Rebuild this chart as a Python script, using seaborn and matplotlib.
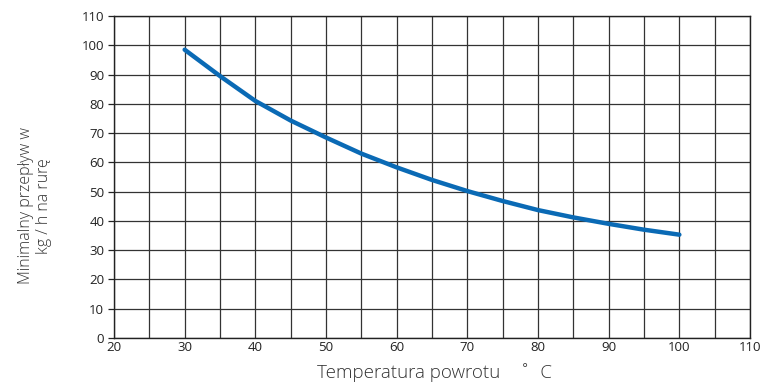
import numpy as np
import pandas as pd
import matplotlib
matplotlib.use("Agg")
import matplotlib.pyplot as plt
import seaborn as sns

temperatura = [30, 35, 40, 45, 50, 55, 60, 65, 70, 75, 80, 85, 90, 95, 100]
przeplyw = [98.5, 89.5, 81, 74.3, 68.5, 63, 58.3, 54, 50.2, 46.8, 43.7, 41.2, 39, 37, 35.3]
x_ticks = [20, 30, 40, 50, 60, 70, 80, 90, 100, 110]
x_minor = [25, 35, 45, 55, 65, 75, 85, 95, 105]
y_ticks = [0, 10, 20, 30, 40, 50, 60, 70, 80, 90, 100, 110]

df = pd.DataFrame({"temperatura": temperatura, "przeplyw": przeplyw})

sns.set_style("white")
plt.rcParams["font.family"] = ["Open Sans", "DejaVu Sans"]

fig = plt.figure(figsize=(7.63, 3.82), dpi=100)
ax = fig.add_axes([0.1494, 0.1152, 0.8336, 0.8428])

sns.lineplot(data=df, x="temperatura", y="przeplyw", color="#0a6ab5",
             linewidth=3.2, ax=ax, zorder=3)

ax.set_xlim(20, 110)
ax.set_ylim(0, 110)
ax.set_xticks(x_ticks)
ax.set_xticks(x_minor, minor=True)
ax.set_yticks(y_ticks)
ax.grid(True, which="both", color="#333333", linewidth=0.9)
ax.tick_params(axis="x", which="major", length=0, labelsize=9.5, pad=2, colors="#222222")
ax.tick_params(axis="x", which="minor", length=6, width=0.9, color="#333333", direction="out")
ax.tick_params(axis="y", which="major", length=4, width=0.9, labelsize=9.5, pad=3,
               colors="#222222", direction="out", left=True)
for s in ax.spines.values():
    s.set_color("#222222")
    s.set_linewidth(1.0)

ax.set_xlabel("")
ax.set_ylabel("")
fig.text(0.569, 0.026, "Temperatura powrotu    ˚  C", fontsize=13.5, color="#333333",
         ha="center", va="center", fontweight="light")
fig.text(0.046, 0.461, "Minimalny przepływ w\nkg / h na rurę", fontsize=11.5,
         color="#333333", rotation=90, ha="center", va="center",
         multialignment="center", linespacing=1.15, fontweight="light")

plt.savefig("out.png", dpi=100)
